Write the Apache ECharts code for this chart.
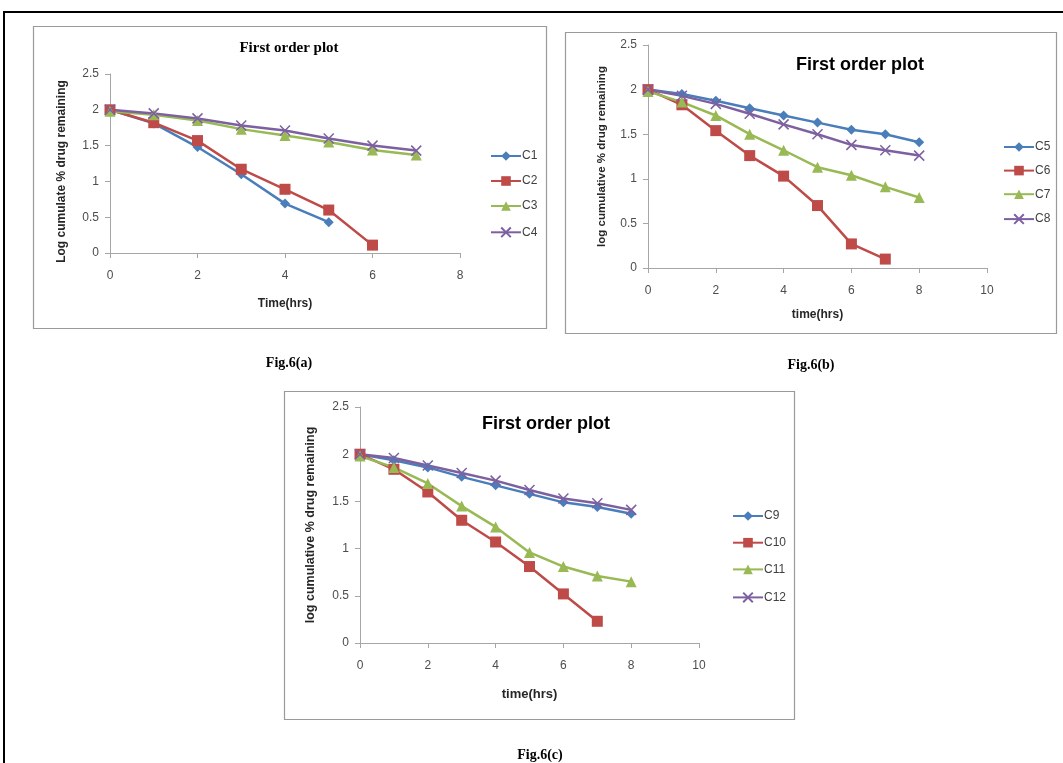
<!DOCTYPE html>
<html>
<head>
<meta charset="utf-8">
<script src="https://cdn.jsdelivr.net/npm/echarts@6/dist/echarts.min.js"></script>
<style>
  html, body { margin: 0; padding: 0; background: #fff; }
  #chart { width: 1063px; height: 763px; }
</style>
</head>
<body>
<div id="chart"></div>
<script>
// hours
const hoursA = [0, 1, 2, 3, 4, 5, 6, 7]
const hoursB = [0, 1, 2, 3, 4, 5, 6, 7, 8]

// Fig.6(a)
const c1 = [2.0, 1.81, 1.48, 1.10, 0.69, 0.43]
const c2 = [2.0, 1.82, 1.57, 1.17, 0.89, 0.60, 0.11]
const c3 = [1.98, 1.93, 1.85, 1.73, 1.64, 1.55, 1.44, 1.37]
const c4 = [2.0, 1.95, 1.88, 1.78, 1.71, 1.60, 1.50, 1.43]
// Fig.6(b)
const c5 = [2.0, 1.95, 1.875, 1.79, 1.71, 1.63, 1.55, 1.50, 1.41]
const c6 = [2.0, 1.83, 1.54, 1.26, 1.03, 0.70, 0.27, 0.10]
const c7 = [1.98, 1.86, 1.71, 1.50, 1.32, 1.13, 1.04, 0.91, 0.79]
const c8 = [2.0, 1.93, 1.84, 1.73, 1.61, 1.50, 1.38, 1.32, 1.26]
// Fig.6(c)
const c9 = [2.0, 1.935, 1.86, 1.76, 1.67, 1.58, 1.49, 1.44, 1.37]
const c10 = [2.0, 1.84, 1.60, 1.30, 1.07, 0.81, 0.52, 0.23]
const c11 = [1.98, 1.86, 1.69, 1.45, 1.23, 0.96, 0.81, 0.71, 0.65]
const c12 = [2.0, 1.96, 1.88, 1.80, 1.72, 1.62, 1.53, 1.48, 1.41]

const yTicks = [0, 0.5, 1, 1.5, 2, 2.5]

const blue = '#4a7ebb', red = '#be4b48', green = '#98b954', purple = '#7d60a0'
const crossPath = 'path://M0,0 L10,10 M10,0 L0,10'
const sans = 'Liberation Sans'

function pairs (hours, vals) {
  return vals.map((v, i) => [hours[i], v])
}

function mkSeries (name, vals, hours, color, symbol, size, idx) {
  const s = {
    name: name,
    type: 'line',
    xAxisIndex: idx,
    yAxisIndex: idx,
    symbol: symbol,
    symbolSize: size,
    showAllSymbol: true,
    lineStyle: { width: 2.5, color: color },
    itemStyle: { color: color },
    emphasis: { disabled: true },
    data: pairs(hours, vals)
  }
  if (symbol === crossPath) {
    s.itemStyle = { color: 'none', borderColor: color, borderWidth: 1.5 }
  }
  return s
}

function mkX (idx, max, name, nameGap, nameSize) {
  return {
    gridIndex: idx,
    type: 'value',
    min: 0,
    max: max,
    interval: 2,
    name: name,
    nameLocation: 'middle',
    nameGap: nameGap,
    nameTextStyle: { fontFamily: sans, fontSize: nameSize, fontWeight: 'bold', color: '#262626' },
    axisLine: { show: true, lineStyle: { color: '#a6a6a6', width: 1 } },
    axisTick: { show: true, length: 5, lineStyle: { color: '#a6a6a6' } },
    axisLabel: { margin: 17, fontFamily: sans, fontSize: 12, color: '#4d4d4d' },
    splitLine: { show: false }
  }
}

function mkY (idx, name, nameGap, nameSize, namePad) {
  return {
    gridIndex: idx,
    type: 'value',
    min: yTicks[0],
    max: yTicks[yTicks.length - 1],
    interval: 0.5,
    name: name,
    nameLocation: 'middle',
    nameGap: nameGap,
    nameTextStyle: { fontFamily: sans, fontSize: nameSize, fontWeight: 'bold', color: '#262626', padding: namePad },
    axisLine: { show: true, lineStyle: { color: '#a6a6a6', width: 1 } },
    axisTick: { show: true, length: 5, lineStyle: { color: '#a6a6a6' } },
    axisLabel: { margin: 11, fontFamily: sans, fontSize: 12, color: '#4d4d4d' },
    splitLine: { show: false }
  }
}

function mkLegend (names, left, top, gap) {
  return {
    data: names,
    orient: 'vertical',
    left: left,
    top: top,
    itemWidth: 30,
    itemHeight: 12,
    itemGap: gap,
    selectedMode: false,
    textStyle: { fontFamily: sans, fontSize: 12, lineHeight: 12, color: '#404040', padding: [0, 0, 0, -4] }
  }
}

function caption (text, x, y, font) {
  return {
    type: 'text',
    style: { text: text, x: x, y: y, textAlign: 'center', textVerticalAlign: 'middle', align: 'center', verticalAlign: 'middle', font: font, fill: '#000' }
  }
}

function frame (x, y, w, h) {
  return {
    type: 'rect',
    shape: { x: x, y: y, width: w, height: h },
    style: { fill: 'none', stroke: '#9a9a9a', lineWidth: 1.2 },
    z: -1
  }
}

const myChart = echarts.init(document.getElementById('chart'))
myChart.setOption({
  backgroundColor: '#fff',
  animation: false,
  grid: [
    { left: 110, top: 74, width: 350, height: 179 },
    { left: 648, top: 45, width: 339, height: 223 },
    { left: 360, top: 407, width: 339, height: 236 }
  ],
  xAxis: [
    mkX(0, 8, 'Time(hrs)', 45, 12),
    mkX(1, 10, 'time(hrs)', 41, 12),
    mkX(2, 10, 'time(hrs)', 45, 13)
  ],
  yAxis: [
    mkY(0, 'Log cumulate % drug remaining', 42, 12, [0, 16, 0, 0]),
    mkY(1, 'log cumulative % drug remaining', 40, 11.5, 0),
    mkY(2, 'log cumulative % drug remaining', 43, 12.5, 0)
  ],
  legend: [
    mkLegend(['C1', 'C2', 'C3', 'C4'], 485, 145, 13),
    mkLegend(['C5', 'C6', 'C7', 'C8'], 998, 136, 11.6),
    mkLegend(['C9', 'C10', 'C11', 'C12'], 727, 505, 14.7)
  ],
  graphic: [
    {
      type: 'rect',
      shape: { x: 4, y: 12, width: 1100, height: 800 },
      style: { fill: 'none', stroke: '#000', lineWidth: 2 },
      z: -2
    },
    frame(33.5, 26.5, 513, 302),
    frame(565.5, 32.5, 491, 301),
    frame(284.5, 391.5, 510, 328),
    caption('First order plot', 289, 48, 'bold 15px "Liberation Serif"'),
    caption('First order plot', 860, 65, 'bold 18px "Liberation Sans"'),
    caption('First order plot', 546, 424, 'bold 18px "Liberation Sans"'),
    caption('Fig.6(a)', 289, 363, 'bold 14px "Liberation Serif"'),
    caption('Fig.6(b)', 811, 365, 'bold 14px "Liberation Serif"'),
    caption('Fig.6(c)', 540, 755, 'bold 14px "Liberation Serif"')
  ],
  series: [
    mkSeries('C1', c1, hoursA, blue, 'diamond', 10, 0),
    mkSeries('C2', c2, hoursA, red, 'rect', 11, 0),
    mkSeries('C3', c3, hoursA, green, 'triangle', 11, 0),
    mkSeries('C4', c4, hoursA, purple, crossPath, 10, 0),
    mkSeries('C5', c5, hoursB, blue, 'diamond', 10, 1),
    mkSeries('C6', c6, hoursB, red, 'rect', 11, 1),
    mkSeries('C7', c7, hoursB, green, 'triangle', 11, 1),
    mkSeries('C8', c8, hoursB, purple, crossPath, 10, 1),
    mkSeries('C9', c9, hoursB, blue, 'diamond', 10, 2),
    mkSeries('C10', c10, hoursB, red, 'rect', 11, 2),
    mkSeries('C11', c11, hoursB, green, 'triangle', 11, 2),
    mkSeries('C12', c12, hoursB, purple, crossPath, 10, 2)
  ]
})
</script>
</body>
</html>
